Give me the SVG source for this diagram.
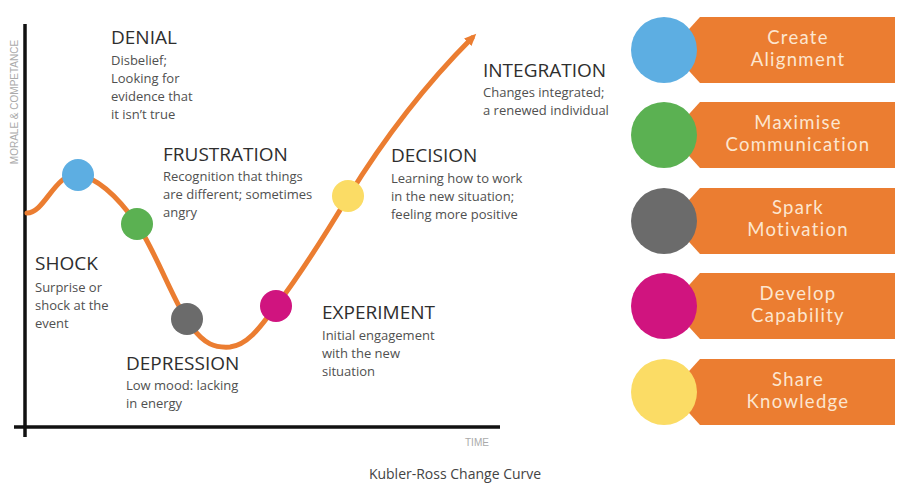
<svg xmlns="http://www.w3.org/2000/svg" width="908" height="495" viewBox="0 0 908 495">
<style>
.h{font-family:"Open Sans","Liberation Sans",sans-serif;font-size:19px;fill:#2e2e2e}
.b{font-family:"Open Sans","Liberation Sans",sans-serif;font-size:13px;fill:#505050}
.ax{stroke:#111;stroke-width:3.5;fill:none}
.lab{font-family:"Liberation Sans",sans-serif;font-size:10px;fill:#aaa}
.ban{fill:#EB7D31}
.bt{font-family:"Lato","Open Sans",sans-serif;font-size:18.5px;letter-spacing:1.3px;fill:#FCE6D0;text-anchor:middle}
.dot{stroke:none}
</style>
<defs>
<marker id="arr" markerWidth="3" markerHeight="3" refX="1.2" refY="1.2" orient="auto" markerUnits="strokeWidth">
<path d="M0,0.15 L2.4,1.2 L0,2.25 Z" fill="#EB7D31"/>
</marker>
</defs>
<rect width="908" height="495" fill="#fff"/>
<g id="axes">
<line class="ax" x1="25" y1="24" x2="25" y2="437"/>
<line class="ax" x1="14" y1="427" x2="500" y2="427"/>
<text class="lab" transform="translate(18,102) rotate(-90)" text-anchor="middle">MORALE &amp; COMPETANCE</text>
<text class="lab" x="465" y="446">TIME</text>
</g>
<g id="connectors">
<path d="M27,213 C45,213 55,172 78,175 C100,178 120,200 137,224 C155,250 175,305 190,325 C205,345 215,348 230,347 C250,345 265,320 276,306 C300,275 325,235 348,197 C380,145 420,90 472,38" fill="none" stroke="#EB7D31" stroke-width="5" stroke-linecap="round" marker-end="url(#arr)"/>
</g>
<g id="shock">
<text class="h" x="35" y="270">SHOCK</text>
<text class="b" x="35" y="292">Surprise or</text>
<text class="b" x="35" y="310">shock at the</text>
<text class="b" x="35" y="328">event</text>
</g>
<g id="denial">
<circle class="dot" cx="78" cy="175" r="16" fill="#5DAEE2"/>
<text class="h" x="111" y="44">DENIAL</text>
<text class="b" x="111" y="65">Disbelief;</text>
<text class="b" x="111" y="83">Looking for</text>
<text class="b" x="111" y="101">evidence that</text>
<text class="b" x="111" y="119">it isn’t true</text>
</g>
<g id="frustration">
<circle class="dot" cx="137" cy="224" r="16" fill="#5BB152"/>
<text class="h" x="163" y="161">FRUSTRATION</text>
<text class="b" x="163" y="181">Recognition that things</text>
<text class="b" x="163" y="199">are different; sometimes</text>
<text class="b" x="163" y="217">angry</text>
</g>
<g id="depression">
<circle class="dot" cx="187" cy="319" r="16" fill="#6B6B6B"/>
<text class="h" x="126" y="370">DEPRESSION</text>
<text class="b" x="126" y="390">Low mood:  lacking</text>
<text class="b" x="126" y="408">in energy</text>
</g>
<g id="experiment">
<circle class="dot" cx="276" cy="306" r="16" fill="#D0147F"/>
<text class="h" x="322" y="319">EXPERIMENT</text>
<text class="b" x="322" y="340">Initial engagement</text>
<text class="b" x="322" y="358">with the  new</text>
<text class="b" x="322" y="376">situation</text>
</g>
<g id="decision">
<circle class="dot" cx="348" cy="196" r="16" fill="#FBDC65"/>
<text class="h" x="391" y="162">DECISION</text>
<text class="b" x="391" y="183">Learning how to work</text>
<text class="b" x="391" y="201">in the new situation;</text>
<text class="b" x="391" y="219">feeling more positive</text>
</g>
<g id="integration">
<text class="h" x="483" y="77">INTEGRATION</text>
<text class="b" x="483" y="97">Changes integrated;</text>
<text class="b" x="483" y="115">a renewed individual</text>
</g>
<g id="create-alignment">
<polygon class="ban" points="700,17 895,17 895,83 700,83 670,50"/>
<circle cx="664" cy="50" r="33" fill="#5DAEE2"/>
<text class="bt" x="798" y="44">Create</text>
<text class="bt" x="798" y="66">Alignment</text>
</g>
<g id="maximise-communication">
<polygon class="ban" points="700,102 895,102 895,168 700,168 670,135"/>
<circle cx="664" cy="135" r="33" fill="#5BB152"/>
<text class="bt" x="798" y="129">Maximise</text>
<text class="bt" x="798" y="151">Communication</text>
</g>
<g id="spark-motivation">
<polygon class="ban" points="700,188 895,188 895,254 700,254 670,221"/>
<circle cx="664" cy="221" r="33" fill="#6B6B6B"/>
<text class="bt" x="798" y="214">Spark</text>
<text class="bt" x="798" y="236">Motivation</text>
</g>
<g id="develop-capability">
<polygon class="ban" points="700,273 895,273 895,339 700,339 670,306"/>
<circle cx="664" cy="306" r="33" fill="#D0147F"/>
<text class="bt" x="798" y="300">Develop</text>
<text class="bt" x="798" y="322">Capability</text>
</g>
<g id="share-knowledge">
<polygon class="ban" points="700,359 895,359 895,425 700,425 670,392"/>
<circle cx="664" cy="392" r="33" fill="#FBDC65"/>
<text class="bt" x="798" y="386">Share</text>
<text class="bt" x="798" y="408">Knowledge</text>
</g>
<g id="caption">
<text x="455" y="479" text-anchor="middle" font-family="Open Sans, Liberation Sans, sans-serif" font-size="14" fill="#444">Kubler-Ross Change Curve</text>
</g>
</svg>
